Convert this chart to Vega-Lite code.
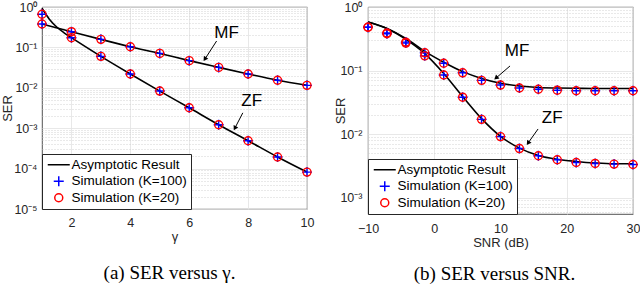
{
  "$schema": "https://vega.github.io/schema/vega-lite/v6.json",
  "padding": {"left": 0, "top": 0, "right": 0, "bottom": 5},
  "background": "white",
  "bounds": "flush",
  "spacing": 61,
  "config": {
    "view": {"stroke": "#262626", "strokeWidth": 0.8},
    "font": "Liberation Sans",
    "axis": {"labelFont": "Liberation Sans", "labelColor": "#262626", "titleFont": "Liberation Sans", "titleFontWeight": "normal", "titleColor": "#262626", "ticks": false, "domain": false, "gridColor": "#e2e2e2", "gridWidth": 0.8},
    "legend": {"orient": "bottom-left", "offset": 0, "title": null, "fillColor": "white", "strokeColor": "#262626", "padding": 4, "labelFont": "Liberation Sans", "labelFontSize": 13.5, "labelColor": "black", "symbolStrokeWidth": 1.5, "symbolSize": 100, "rowPadding": 0.5, "labelOffset": 6, "symbolOffset": 6, "cornerRadius": 0}
  },
  "datasets": {
    "lineA": [
      {"curve": "MF", "series": "Asymptotic Result", "x": 1, "y": 0.38},
      {"curve": "MF", "series": "Asymptotic Result", "x": 2, "y": 0.245},
      {"curve": "MF", "series": "Asymptotic Result", "x": 3, "y": 0.158},
      {"curve": "MF", "series": "Asymptotic Result", "x": 4, "y": 0.104},
      {"curve": "MF", "series": "Asymptotic Result", "x": 5, "y": 0.071},
      {"curve": "MF", "series": "Asymptotic Result", "x": 6, "y": 0.047},
      {"curve": "MF", "series": "Asymptotic Result", "x": 7, "y": 0.032},
      {"curve": "MF", "series": "Asymptotic Result", "x": 8, "y": 0.022},
      {"curve": "MF", "series": "Asymptotic Result", "x": 9, "y": 0.0154},
      {"curve": "MF", "series": "Asymptotic Result", "x": 10, "y": 0.0115},
      {"curve": "ZF", "series": "Asymptotic Result", "x": 1, "y": 0.93},
      {"curve": "ZF", "series": "Asymptotic Result", "x": 1.25, "y": 0.5},
      {"curve": "ZF", "series": "Asymptotic Result", "x": 1.5, "y": 0.32},
      {"curve": "ZF", "series": "Asymptotic Result", "x": 1.75, "y": 0.23},
      {"curve": "ZF", "series": "Asymptotic Result", "x": 2, "y": 0.174},
      {"curve": "ZF", "series": "Asymptotic Result", "x": 3, "y": 0.06},
      {"curve": "ZF", "series": "Asymptotic Result", "x": 4, "y": 0.022},
      {"curve": "ZF", "series": "Asymptotic Result", "x": 5, "y": 0.0083},
      {"curve": "ZF", "series": "Asymptotic Result", "x": 6, "y": 0.0032},
      {"curve": "ZF", "series": "Asymptotic Result", "x": 7, "y": 0.00122},
      {"curve": "ZF", "series": "Asymptotic Result", "x": 8, "y": 0.00049},
      {"curve": "ZF", "series": "Asymptotic Result", "x": 9, "y": 0.000194},
      {"curve": "ZF", "series": "Asymptotic Result", "x": 10, "y": 0.000082}
    ],
    "ptsA": [
      {"curve": "MF", "series": "Simulation (K=100)", "x": 1, "y": 0.38},
      {"curve": "MF", "series": "Simulation (K=100)", "x": 2, "y": 0.245},
      {"curve": "MF", "series": "Simulation (K=100)", "x": 3, "y": 0.158},
      {"curve": "MF", "series": "Simulation (K=100)", "x": 4, "y": 0.104},
      {"curve": "MF", "series": "Simulation (K=100)", "x": 5, "y": 0.071},
      {"curve": "MF", "series": "Simulation (K=100)", "x": 6, "y": 0.047},
      {"curve": "MF", "series": "Simulation (K=100)", "x": 7, "y": 0.032},
      {"curve": "MF", "series": "Simulation (K=100)", "x": 8, "y": 0.022},
      {"curve": "MF", "series": "Simulation (K=100)", "x": 9, "y": 0.0154},
      {"curve": "MF", "series": "Simulation (K=100)", "x": 10, "y": 0.0115},
      {"curve": "ZF", "series": "Simulation (K=100)", "x": 1, "y": 0.66},
      {"curve": "ZF", "series": "Simulation (K=100)", "x": 2, "y": 0.174},
      {"curve": "ZF", "series": "Simulation (K=100)", "x": 3, "y": 0.06},
      {"curve": "ZF", "series": "Simulation (K=100)", "x": 4, "y": 0.022},
      {"curve": "ZF", "series": "Simulation (K=100)", "x": 5, "y": 0.0083},
      {"curve": "ZF", "series": "Simulation (K=100)", "x": 6, "y": 0.0032},
      {"curve": "ZF", "series": "Simulation (K=100)", "x": 7, "y": 0.00122},
      {"curve": "ZF", "series": "Simulation (K=100)", "x": 8, "y": 0.00049},
      {"curve": "ZF", "series": "Simulation (K=100)", "x": 9, "y": 0.000194},
      {"curve": "ZF", "series": "Simulation (K=100)", "x": 10, "y": 0.000082},
      {"curve": "MF", "series": "Simulation (K=20)", "x": 1, "y": 0.38},
      {"curve": "MF", "series": "Simulation (K=20)", "x": 2, "y": 0.245},
      {"curve": "MF", "series": "Simulation (K=20)", "x": 3, "y": 0.158},
      {"curve": "MF", "series": "Simulation (K=20)", "x": 4, "y": 0.104},
      {"curve": "MF", "series": "Simulation (K=20)", "x": 5, "y": 0.071},
      {"curve": "MF", "series": "Simulation (K=20)", "x": 6, "y": 0.047},
      {"curve": "MF", "series": "Simulation (K=20)", "x": 7, "y": 0.032},
      {"curve": "MF", "series": "Simulation (K=20)", "x": 8, "y": 0.022},
      {"curve": "MF", "series": "Simulation (K=20)", "x": 9, "y": 0.0154},
      {"curve": "MF", "series": "Simulation (K=20)", "x": 10, "y": 0.0115},
      {"curve": "ZF", "series": "Simulation (K=20)", "x": 1, "y": 0.66},
      {"curve": "ZF", "series": "Simulation (K=20)", "x": 2, "y": 0.174},
      {"curve": "ZF", "series": "Simulation (K=20)", "x": 3, "y": 0.06},
      {"curve": "ZF", "series": "Simulation (K=20)", "x": 4, "y": 0.022},
      {"curve": "ZF", "series": "Simulation (K=20)", "x": 5, "y": 0.0083},
      {"curve": "ZF", "series": "Simulation (K=20)", "x": 6, "y": 0.0032},
      {"curve": "ZF", "series": "Simulation (K=20)", "x": 7, "y": 0.00122},
      {"curve": "ZF", "series": "Simulation (K=20)", "x": 8, "y": 0.00049},
      {"curve": "ZF", "series": "Simulation (K=20)", "x": 9, "y": 0.000194},
      {"curve": "ZF", "series": "Simulation (K=20)", "x": 10, "y": 0.000082}
    ],
    "annA": [
      {"label": "MF", "tx": 7.27, "ty": 0.23, "ax": 6.93, "ay": 0.144, "bx": 6.53, "by": 0.051},
      {"label": "ZF", "tx": 8.12, "ty": 0.0047, "ax": 7.82, "ay": 0.0024, "bx": 7.55, "by": 0.001}
    ],
    "lineB": [
      {"curve": "MF", "series": "Asymptotic Result", "x": -10, "y": 0.58},
      {"curve": "MF", "series": "Asymptotic Result", "x": -7.143, "y": 0.46},
      {"curve": "MF", "series": "Asymptotic Result", "x": -4.286, "y": 0.32},
      {"curve": "MF", "series": "Asymptotic Result", "x": -1.429, "y": 0.2},
      {"curve": "MF", "series": "Asymptotic Result", "x": 1.429, "y": 0.135},
      {"curve": "MF", "series": "Asymptotic Result", "x": 4.286, "y": 0.096},
      {"curve": "MF", "series": "Asymptotic Result", "x": 7.143, "y": 0.075},
      {"curve": "MF", "series": "Asymptotic Result", "x": 10, "y": 0.063},
      {"curve": "MF", "series": "Asymptotic Result", "x": 12.857, "y": 0.057},
      {"curve": "MF", "series": "Asymptotic Result", "x": 15.714, "y": 0.054},
      {"curve": "MF", "series": "Asymptotic Result", "x": 18.571, "y": 0.053},
      {"curve": "MF", "series": "Asymptotic Result", "x": 21.429, "y": 0.0525},
      {"curve": "MF", "series": "Asymptotic Result", "x": 24.286, "y": 0.052},
      {"curve": "MF", "series": "Asymptotic Result", "x": 27.143, "y": 0.052},
      {"curve": "MF", "series": "Asymptotic Result", "x": 30, "y": 0.052},
      {"curve": "ZF", "series": "Asymptotic Result", "x": -10, "y": 0.58},
      {"curve": "ZF", "series": "Asymptotic Result", "x": -7.143, "y": 0.46},
      {"curve": "ZF", "series": "Asymptotic Result", "x": -4.286, "y": 0.31},
      {"curve": "ZF", "series": "Asymptotic Result", "x": -1.429, "y": 0.185},
      {"curve": "ZF", "series": "Asymptotic Result", "x": 1.429, "y": 0.09},
      {"curve": "ZF", "series": "Asymptotic Result", "x": 4.286, "y": 0.039},
      {"curve": "ZF", "series": "Asymptotic Result", "x": 7.143, "y": 0.0175},
      {"curve": "ZF", "series": "Asymptotic Result", "x": 10, "y": 0.0092},
      {"curve": "ZF", "series": "Asymptotic Result", "x": 12.857, "y": 0.006},
      {"curve": "ZF", "series": "Asymptotic Result", "x": 15.714, "y": 0.0046},
      {"curve": "ZF", "series": "Asymptotic Result", "x": 18.571, "y": 0.004},
      {"curve": "ZF", "series": "Asymptotic Result", "x": 21.429, "y": 0.0037},
      {"curve": "ZF", "series": "Asymptotic Result", "x": 24.286, "y": 0.0035},
      {"curve": "ZF", "series": "Asymptotic Result", "x": 27.143, "y": 0.0034},
      {"curve": "ZF", "series": "Asymptotic Result", "x": 30, "y": 0.0034}
    ],
    "ptsB": [
      {"curve": "MF", "series": "Simulation (K=100)", "x": -10, "y": 0.48},
      {"curve": "MF", "series": "Simulation (K=100)", "x": -7.143, "y": 0.39},
      {"curve": "MF", "series": "Simulation (K=100)", "x": -4.286, "y": 0.28},
      {"curve": "MF", "series": "Simulation (K=100)", "x": -1.429, "y": 0.19},
      {"curve": "MF", "series": "Simulation (K=100)", "x": 1.429, "y": 0.13},
      {"curve": "MF", "series": "Simulation (K=100)", "x": 4.286, "y": 0.092},
      {"curve": "MF", "series": "Simulation (K=100)", "x": 7.143, "y": 0.07},
      {"curve": "MF", "series": "Simulation (K=100)", "x": 10, "y": 0.059},
      {"curve": "MF", "series": "Simulation (K=100)", "x": 12.857, "y": 0.053},
      {"curve": "MF", "series": "Simulation (K=100)", "x": 15.714, "y": 0.0506},
      {"curve": "MF", "series": "Simulation (K=100)", "x": 18.571, "y": 0.049},
      {"curve": "MF", "series": "Simulation (K=100)", "x": 21.429, "y": 0.048},
      {"curve": "MF", "series": "Simulation (K=100)", "x": 24.286, "y": 0.048},
      {"curve": "MF", "series": "Simulation (K=100)", "x": 27.143, "y": 0.048},
      {"curve": "MF", "series": "Simulation (K=100)", "x": 30, "y": 0.048},
      {"curve": "ZF", "series": "Simulation (K=100)", "x": -10, "y": 0.48},
      {"curve": "ZF", "series": "Simulation (K=100)", "x": -7.143, "y": 0.38},
      {"curve": "ZF", "series": "Simulation (K=100)", "x": -4.286, "y": 0.27},
      {"curve": "ZF", "series": "Simulation (K=100)", "x": -1.429, "y": 0.17},
      {"curve": "ZF", "series": "Simulation (K=100)", "x": 1.429, "y": 0.085},
      {"curve": "ZF", "series": "Simulation (K=100)", "x": 4.286, "y": 0.038},
      {"curve": "ZF", "series": "Simulation (K=100)", "x": 7.143, "y": 0.017},
      {"curve": "ZF", "series": "Simulation (K=100)", "x": 10, "y": 0.0091},
      {"curve": "ZF", "series": "Simulation (K=100)", "x": 12.857, "y": 0.0059},
      {"curve": "ZF", "series": "Simulation (K=100)", "x": 15.714, "y": 0.00454},
      {"curve": "ZF", "series": "Simulation (K=100)", "x": 18.571, "y": 0.00393},
      {"curve": "ZF", "series": "Simulation (K=100)", "x": 21.429, "y": 0.00356},
      {"curve": "ZF", "series": "Simulation (K=100)", "x": 24.286, "y": 0.00344},
      {"curve": "ZF", "series": "Simulation (K=100)", "x": 27.143, "y": 0.00336},
      {"curve": "ZF", "series": "Simulation (K=100)", "x": 30, "y": 0.00331},
      {"curve": "MF", "series": "Simulation (K=20)", "x": -10, "y": 0.48},
      {"curve": "MF", "series": "Simulation (K=20)", "x": -7.143, "y": 0.39},
      {"curve": "MF", "series": "Simulation (K=20)", "x": -4.286, "y": 0.28},
      {"curve": "MF", "series": "Simulation (K=20)", "x": -1.429, "y": 0.19},
      {"curve": "MF", "series": "Simulation (K=20)", "x": 1.429, "y": 0.13},
      {"curve": "MF", "series": "Simulation (K=20)", "x": 4.286, "y": 0.092},
      {"curve": "MF", "series": "Simulation (K=20)", "x": 7.143, "y": 0.07},
      {"curve": "MF", "series": "Simulation (K=20)", "x": 10, "y": 0.059},
      {"curve": "MF", "series": "Simulation (K=20)", "x": 12.857, "y": 0.053},
      {"curve": "MF", "series": "Simulation (K=20)", "x": 15.714, "y": 0.0506},
      {"curve": "MF", "series": "Simulation (K=20)", "x": 18.571, "y": 0.049},
      {"curve": "MF", "series": "Simulation (K=20)", "x": 21.429, "y": 0.048},
      {"curve": "MF", "series": "Simulation (K=20)", "x": 24.286, "y": 0.048},
      {"curve": "MF", "series": "Simulation (K=20)", "x": 27.143, "y": 0.048},
      {"curve": "MF", "series": "Simulation (K=20)", "x": 30, "y": 0.048},
      {"curve": "ZF", "series": "Simulation (K=20)", "x": -10, "y": 0.48},
      {"curve": "ZF", "series": "Simulation (K=20)", "x": -7.143, "y": 0.38},
      {"curve": "ZF", "series": "Simulation (K=20)", "x": -4.286, "y": 0.27},
      {"curve": "ZF", "series": "Simulation (K=20)", "x": -1.429, "y": 0.17},
      {"curve": "ZF", "series": "Simulation (K=20)", "x": 1.429, "y": 0.085},
      {"curve": "ZF", "series": "Simulation (K=20)", "x": 4.286, "y": 0.038},
      {"curve": "ZF", "series": "Simulation (K=20)", "x": 7.143, "y": 0.017},
      {"curve": "ZF", "series": "Simulation (K=20)", "x": 10, "y": 0.0091},
      {"curve": "ZF", "series": "Simulation (K=20)", "x": 12.857, "y": 0.0059},
      {"curve": "ZF", "series": "Simulation (K=20)", "x": 15.714, "y": 0.00454},
      {"curve": "ZF", "series": "Simulation (K=20)", "x": 18.571, "y": 0.00393},
      {"curve": "ZF", "series": "Simulation (K=20)", "x": 21.429, "y": 0.00356},
      {"curve": "ZF", "series": "Simulation (K=20)", "x": 24.286, "y": 0.00344},
      {"curve": "ZF", "series": "Simulation (K=20)", "x": 27.143, "y": 0.00336},
      {"curve": "ZF", "series": "Simulation (K=20)", "x": 30, "y": 0.00331}
    ],
    "annB": [
      {"label": "MF", "tx": 12.5, "ty": 0.203, "ax": 11.44, "ay": 0.118, "bx": 9.32, "by": 0.076},
      {"label": "ZF", "tx": 17.8, "ty": 0.0178, "ax": 15.67, "ay": 0.012, "bx": 14.16, "by": 0.0072}
    ]
  },
  "hconcat": [
    {
      "width": 265,
      "height": 202,
      "title": {"text": "(a) SER versus γ.", "orient": "bottom", "anchor": "middle", "font": "Liberation Serif", "fontSize": 19, "fontWeight": "normal", "color": "black", "offset": 20, "dx": -5},
      "resolve": {"axis": {"y": "independent"}},
      "layer": [
        {
          "data": {"name": "lineA"},
          "mark": {"type": "line", "interpolate": "monotone", "strokeWidth": 1.6},
          "encoding": {
            "x": {"field": "x", "type": "quantitative", "scale": {"domain": [1, 10], "nice": false, "zero": false},
                  "axis": {"values": [2, 4, 6, 8, 10], "title": "γ", "labelFontSize": 12.5, "labelPadding": 7, "labelFlush": false, "labelOverlap": false, "titleFontSize": 13, "titlePadding": 2, "grid": true}},
            "y": {"field": "y", "type": "quantitative", "scale": {"type": "log", "domain": [0.00001, 1], "nice": false},
                  "axis": {"orient": "left", "values": [0.00001, 0.0001, 0.001, 0.01, 0.1, 1], "labelExpr": "['10⁰','10⁻¹','10⁻²','10⁻³','10⁻⁴','10⁻⁵'][round(-log(datum.value)/LN10)]", "labelFontSize": 12.5, "labelPadding": 5, "title": "SER", "titleFontSize": 13, "titlePadding": 2, "minExtent": 26, "maxExtent": 26, "grid": true}},
            "detail": {"field": "curve"},
            "color": {"field": "series", "type": "nominal", "scale": {"domain": ["Asymptotic Result", "Simulation (K=100)", "Simulation (K=20)"], "range": ["black", "blue", "red"]}}
          }
        },
        {
          "data": {"name": "ptsA"},
          "mark": {"type": "point", "filled": false, "strokeWidth": 1.4, "size": 100, "opacity": 1},
          "encoding": {
            "x": {"field": "x", "type": "quantitative"},
            "y": {"field": "y", "type": "quantitative",
                  "axis": {"orient": "right", "values": [0.00002, 0.00003, 0.00004, 0.00005, 0.00006, 0.00007, 0.00008, 0.00009, 0.0002, 0.0003, 0.0004, 0.0005, 0.0006, 0.0007, 0.0008, 0.0009, 0.002, 0.003, 0.004, 0.005, 0.006, 0.007, 0.008, 0.009, 0.02, 0.03, 0.04, 0.05, 0.06, 0.07, 0.08, 0.09, 0.2, 0.3, 0.4, 0.5, 0.6, 0.7, 0.8, 0.9], "labels": false, "title": null, "grid": true, "gridDash": [1, 2], "gridColor": "#c8c8c8", "minExtent": 0, "maxExtent": 0}},
            "color": {"field": "series", "type": "nominal", "scale": {"domain": ["Asymptotic Result", "Simulation (K=100)", "Simulation (K=20)"], "range": ["black", "blue", "red"]}},
            "shape": {"field": "series", "type": "nominal", "scale": {"domain": ["Asymptotic Result", "Simulation (K=100)", "Simulation (K=20)"], "range": ["M-2.2,0L2.2,0", "M-1,0L1,0M0,-1L0,1", "M0.8,0A0.8,0.8,0,1,1,-0.8,0A0.8,0.8,0,1,1,0.8,0Z"]}}
          }
        },
        {
          "data": {"name": "annA"},
          "mark": {"type": "text", "fontSize": 17, "font": "Liberation Sans", "color": "black", "align": "center", "baseline": "middle"},
          "encoding": {
            "x": {"field": "tx", "type": "quantitative"},
            "y": {"field": "ty", "type": "quantitative", "axis": null},
            "text": {"field": "label"}
          }
        },
        {
          "data": {"name": "annA"},
          "mark": {"type": "rule", "color": "black", "strokeWidth": 1},
          "encoding": {
            "x": {"field": "ax", "type": "quantitative"},
            "y": {"field": "ay", "type": "quantitative", "axis": null},
            "x2": {"field": "bx"},
            "y2": {"field": "by"}
          }
        },
        {
          "data": {"name": "annA"},
          "transform": [{"filter": "datum.label == 'MF'"}],
          "mark": {"type": "point", "shape": "triangle-up", "filled": true, "color": "black", "size": 28, "angle": 214, "opacity": 1},
          "encoding": {
            "x": {"field": "bx", "type": "quantitative"},
            "y": {"field": "by", "type": "quantitative", "axis": null}
          }
        },
        {
          "data": {"name": "annA"},
          "transform": [{"filter": "datum.label == 'ZF'"}],
          "mark": {"type": "point", "shape": "triangle-up", "filled": true, "color": "black", "size": 28, "angle": 208, "opacity": 1},
          "encoding": {
            "x": {"field": "bx", "type": "quantitative"},
            "y": {"field": "by", "type": "quantitative", "axis": null}
          }
        }
      ]
    },
    {
      "width": 265,
      "height": 207,
      "title": {"text": "(b) SER versus SNR.", "orient": "bottom", "anchor": "middle", "font": "Liberation Serif", "fontSize": 19, "fontWeight": "normal", "color": "black", "offset": 15, "dx": -6},
      "resolve": {"axis": {"y": "independent"}},
      "layer": [
        {
          "data": {"name": "lineB"},
          "mark": {"type": "line", "interpolate": "monotone", "strokeWidth": 1.6},
          "encoding": {
            "x": {"field": "x", "type": "quantitative", "scale": {"domain": [-10, 30], "nice": false, "zero": false},
                  "axis": {"values": [-10, 0, 10, 20, 30], "title": "SNR (dB)", "labelFontSize": 12.5, "labelPadding": 8, "labelFlush": false, "labelOverlap": false, "titleFontSize": 13, "titlePadding": 2, "grid": true}},
            "y": {"field": "y", "type": "quantitative", "scale": {"type": "log", "domain": [0.00055, 1], "nice": false},
                  "axis": {"orient": "left", "values": [0.001, 0.01, 0.1, 1], "labelExpr": "['10⁰','10⁻¹','10⁻²','10⁻³','10⁻⁴','10⁻⁵'][round(-log(datum.value)/LN10)]", "labelFontSize": 12.5, "labelPadding": 6, "title": "SER", "titleFontSize": 13, "titlePadding": 2, "minExtent": 19, "maxExtent": 19, "grid": true}},
            "detail": {"field": "curve"},
            "color": {"field": "series", "type": "nominal", "scale": {"domain": ["Asymptotic Result", "Simulation (K=100)", "Simulation (K=20)"], "range": ["black", "blue", "red"]}}
          }
        },
        {
          "data": {"name": "ptsB"},
          "mark": {"type": "point", "filled": false, "strokeWidth": 1.4, "size": 100, "opacity": 1},
          "encoding": {
            "x": {"field": "x", "type": "quantitative"},
            "y": {"field": "y", "type": "quantitative",
                  "axis": {"orient": "right", "values": [0.0006, 0.0007, 0.0008, 0.0009, 0.002, 0.003, 0.004, 0.005, 0.006, 0.007, 0.008, 0.009, 0.02, 0.03, 0.04, 0.05, 0.06, 0.07, 0.08, 0.09, 0.2, 0.3, 0.4, 0.5, 0.6, 0.7, 0.8, 0.9], "labels": false, "title": null, "grid": true, "gridDash": [1, 2], "gridColor": "#c8c8c8", "minExtent": 0, "maxExtent": 0}},
            "color": {"field": "series", "type": "nominal", "scale": {"domain": ["Asymptotic Result", "Simulation (K=100)", "Simulation (K=20)"], "range": ["black", "blue", "red"]}},
            "shape": {"field": "series", "type": "nominal", "scale": {"domain": ["Asymptotic Result", "Simulation (K=100)", "Simulation (K=20)"], "range": ["M-2.2,0L2.2,0", "M-1,0L1,0M0,-1L0,1", "M0.8,0A0.8,0.8,0,1,1,-0.8,0A0.8,0.8,0,1,1,0.8,0Z"]}}
          }
        },
        {
          "data": {"name": "annB"},
          "mark": {"type": "text", "fontSize": 17, "font": "Liberation Sans", "color": "black", "align": "center", "baseline": "middle"},
          "encoding": {
            "x": {"field": "tx", "type": "quantitative"},
            "y": {"field": "ty", "type": "quantitative", "axis": null},
            "text": {"field": "label"}
          }
        },
        {
          "data": {"name": "annB"},
          "mark": {"type": "rule", "color": "black", "strokeWidth": 1},
          "encoding": {
            "x": {"field": "ax", "type": "quantitative"},
            "y": {"field": "ay", "type": "quantitative", "axis": null},
            "x2": {"field": "bx"},
            "y2": {"field": "by"}
          }
        },
        {
          "data": {"name": "annB"},
          "transform": [{"filter": "datum.label == 'MF'"}],
          "mark": {"type": "point", "shape": "triangle-up", "filled": true, "color": "black", "size": 28, "angle": 229, "opacity": 1},
          "encoding": {
            "x": {"field": "bx", "type": "quantitative"},
            "y": {"field": "by", "type": "quantitative", "axis": null}
          }
        },
        {
          "data": {"name": "annB"},
          "transform": [{"filter": "datum.label == 'ZF'"}],
          "mark": {"type": "point", "shape": "triangle-up", "filled": true, "color": "black", "size": 28, "angle": 215, "opacity": 1},
          "encoding": {
            "x": {"field": "bx", "type": "quantitative"},
            "y": {"field": "by", "type": "quantitative", "axis": null}
          }
        }
      ]
    }
  ],
  "resolve": {"scale": {"color": "independent", "shape": "independent"}, "legend": {"color": "independent", "shape": "independent"}}
}
